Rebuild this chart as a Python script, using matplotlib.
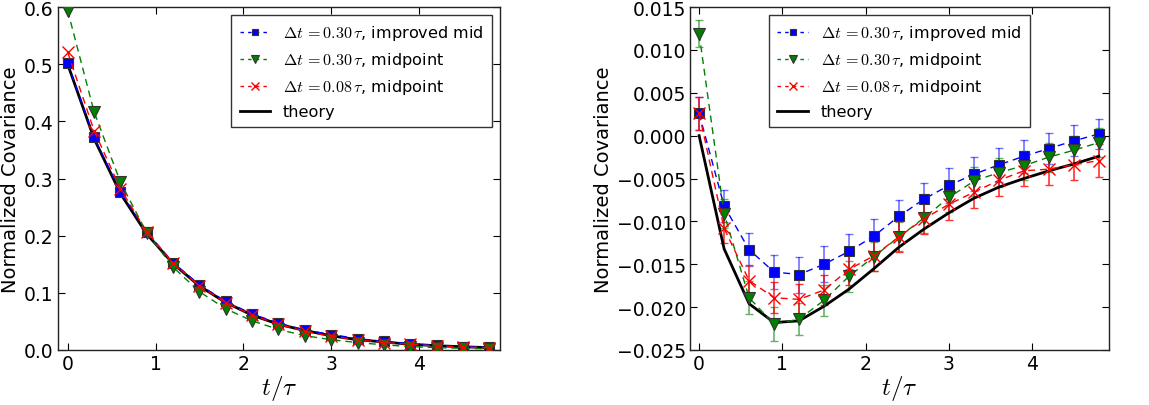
import numpy as np
import matplotlib
matplotlib.use("Agg")
import matplotlib.pyplot as plt

t = [0.0, 0.3, 0.6, 0.9, 1.2, 1.5, 1.8, 2.1, 2.4, 2.7, 3.0, 3.3, 3.6, 3.9, 4.2, 4.5, 4.8]

# left panel: autocovariance
left_theory = [0.500, 0.370, 0.274, 0.203, 0.151, 0.112, 0.083, 0.061, 0.045,
               0.034, 0.025, 0.018, 0.014, 0.010, 0.0075, 0.0056, 0.0041]
left_improved = [0.502, 0.372, 0.277, 0.206, 0.153, 0.114, 0.085, 0.063, 0.047,
                 0.035, 0.027, 0.020, 0.015, 0.011, 0.008, 0.006, 0.005]
left_mid30 = [0.594, 0.417, 0.294, 0.205, 0.145, 0.102, 0.072, 0.051, 0.036,
              0.025, 0.018, 0.013, 0.009, 0.006, 0.004, 0.003, 0.002]
left_mid08 = [0.521, 0.384, 0.282, 0.207, 0.152, 0.112, 0.083, 0.061, 0.045,
              0.033, 0.024, 0.018, 0.013, 0.010, 0.007, 0.005, 0.004]

# right panel: cross covariance
right_theory = [0.0, -0.0132, -0.0196, -0.0218, -0.0216, -0.0199, -0.0179, -0.0155, -0.0130,
                -0.0109, -0.0090, -0.0073, -0.0060, -0.0050, -0.0041, -0.0033, -0.0024]
right_improved = [0.0026, -0.0082, -0.0133, -0.0159, -0.0162, -0.0150, -0.0135, -0.0117, -0.0094,
                  -0.0074, -0.0058, -0.0045, -0.0034, -0.0024, -0.0015, -0.0006, 0.0002]
right_improved_err = [0.0019, 0.0019, 0.0019, 0.0020, 0.0021, 0.0021, 0.0020, 0.0020, 0.0019,
                      0.0019, 0.0020, 0.0020, 0.0020, 0.0019, 0.0018, 0.0018, 0.0017]
right_mid30 = [0.0119, -0.0091, -0.0189, -0.0220, -0.0214, -0.0192, -0.0164, -0.0141, -0.0118,
               -0.0096, -0.0072, -0.0053, -0.0043, -0.0035, -0.0025, -0.0017, -0.0008]
right_mid30_err = [0.0016, 0.0017, 0.0019, 0.0020, 0.0019, 0.0018, 0.0018, 0.0017, 0.0017,
                   0.0017, 0.0017, 0.0017, 0.0017, 0.0017, 0.0017, 0.0017, 0.0017]
right_mid08 = [0.0026, -0.0108, -0.0169, -0.0189, -0.0191, -0.0180, -0.0156, -0.0140, -0.0118,
               -0.0097, -0.0080, -0.0066, -0.0052, -0.0041, -0.0039, -0.0034, -0.0029]
right_mid08_err = [0.0019, 0.0017, 0.0018, 0.0018, 0.0018, 0.0018, 0.0018, 0.0018, 0.0018,
                   0.0018, 0.0018, 0.0018, 0.0018, 0.0018, 0.0018, 0.0018, 0.0019]

labels = [r"$\Delta t\,{=}0.30\,\tau$, improved mid",
          r"$\Delta t\,{=}0.30\,\tau$, midpoint",
          r"$\Delta t\,{=}0.08\,\tau$, midpoint",
          "theory"]

plt.rcParams.update({
    "font.family": "DejaVu Sans",
    "mathtext.fontset": "cm",
    "font.size": 13.5,
    "xtick.direction": "in",
    "ytick.direction": "in",
    "xtick.top": True,
    "ytick.right": True,
    "xtick.major.size": 5,
    "ytick.major.size": 5,
    "xtick.major.pad": 3,
    "ytick.major.pad": 3,
    "axes.linewidth": 1.0,
    "axes.edgecolor": "#222222",
})

fig = plt.figure(figsize=(11.49, 4.06), dpi=100)
ax1 = fig.add_axes([0.0505, 0.1355, 0.3845, 0.8445])
ax2 = fig.add_axes([0.6005, 0.1355, 0.3645, 0.8445])

ms = 7.5
dash = (5, 3.5)


def draw_series(ax, imp, m30, m08, th):
    ax.plot(t, imp, "b--", dashes=dash, marker="s", ms=ms, mec="#333333", mew=0.8, lw=1.0,
            label=labels[0], zorder=4)
    ax.plot(t, m30, "g--", dashes=dash, marker="v", ms=ms + 1, mec="#333333", mew=0.8, lw=1.0,
            label=labels[1], zorder=4)
    ax.plot(t, m08, "r--", dashes=dash, marker="x", ms=ms + 1, mew=1.0, lw=1.0,
            label=labels[2], zorder=4)
    ax.plot(t, th, "k-", lw=2.0, label=labels[3], zorder=3)


draw_series(ax1, left_improved, left_mid30, left_mid08, left_theory)

ax2.errorbar(t, right_improved, yerr=right_improved_err, fmt="none",
             ecolor=(0, 0, 1, 0.55), capsize=3, elinewidth=1.2, zorder=2)
ax2.errorbar(t, right_mid30, yerr=right_mid30_err, fmt="none",
             ecolor=(0, 0.5, 0, 0.6), capsize=3, elinewidth=1.2, zorder=2)
ax2.errorbar(t, right_mid08, yerr=right_mid08_err, fmt="none",
             ecolor=(1, 0, 0, 0.8), capsize=3, elinewidth=1.2, zorder=2)
draw_series(ax2, right_improved, right_mid30, right_mid08, right_theory)

ax1.set_ylim(0.0, 0.6)
ax1.set_yticks(np.arange(0, 0.61, 0.1))
ax1.yaxis.set_major_formatter(matplotlib.ticker.FormatStrFormatter("%.1f"))
ax2.set_ylim(-0.025, 0.015)
ax2.set_yticks(np.arange(-0.025, 0.0151, 0.005))
ax2.yaxis.set_major_formatter(matplotlib.ticker.FuncFormatter(
    lambda v, p: ("%.3f" % v).replace("-", "\u2212")))

for ax, loc in ((ax1, "upper right"), (ax2, "upper center")):
    ax.set_xlim(-0.11, 4.92)
    ax.set_xticks([0, 1, 2, 3, 4])
    ax.set_xlabel(r"$t/\tau$", fontsize=18, labelpad=0)
    ax.set_ylabel("Normalized Covariance", fontsize=14, labelpad=3)
    leg = ax.legend(loc=loc, numpoints=1, fontsize=11.6, fancybox=False,
                    handlelength=1.9, borderpad=0.5, labelspacing=0.5,
                    markerscale=0.65, handletextpad=0.8)
    leg.get_frame().set_edgecolor("black")
    leg.get_frame().set_linewidth(1.0)
    for h in leg.get_lines():
        if h.get_linestyle() == "--":
            h.set_dashes((2.5, 3))

fig.savefig("out.png", dpi=100)
